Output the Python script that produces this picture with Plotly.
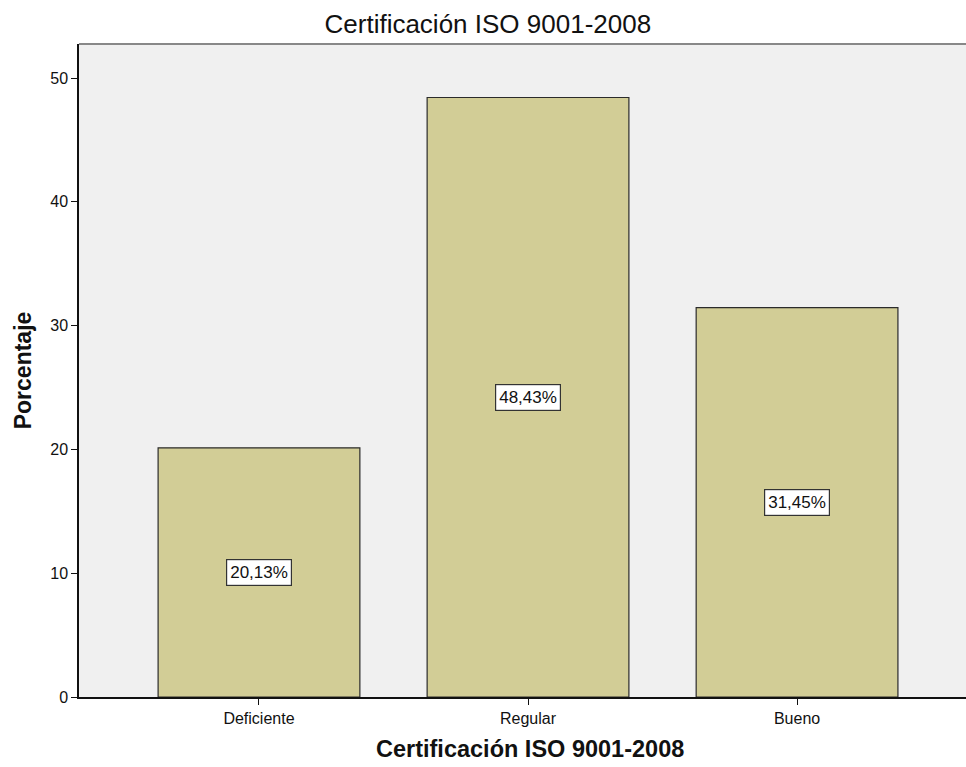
import plotly.graph_objects as go

categories = ["Deficiente", "Regular", "Bueno"]
values = [20.13, 48.43, 31.45]
labels = ["20,13%", "48,43%", "31,45%"]
yticks = [0, 10, 20, 30, 40, 50]

fig = go.Figure()
fig.add_trace(go.Bar(
    x=categories, y=values, width=0.75,
    marker=dict(color="#d2cd96", line=dict(color="#2b2b2b", width=1.2)),
    hoverinfo="skip",
))

for c, v, t in zip(categories, values, labels):
    fig.add_annotation(
        x=c, y=v / 2, text=t, showarrow=False,
        font=dict(family="Liberation Sans, Arial", size=17, color="#111"),
        bgcolor="white", bordercolor="#333", borderwidth=1.2, borderpad=3,
    )

# x-axis title as annotation (slightly right of plot centre, as in reference)
fig.add_annotation(
    xref="paper", yref="paper", x=0.508, y=0, yshift=-52,
    xanchor="center", yanchor="middle", showarrow=False,
    text="<b>Certificación ISO 9001-2008</b>", borderpad=0,
    font=dict(family="Liberation Sans, Arial", size=23.5, color="#111"),
)

fig.add_shape(type="line", xref="paper", yref="paper", x0=0, x1=1, y0=1, y1=1,
              line=dict(color="#888888", width=2))

fig.update_layout(
    width=966, height=767,
    margin=dict(l=79, r=0, t=44, b=70),
    paper_bgcolor="white", plot_bgcolor="#f0f0f0",
    showlegend=False,
    title=dict(text="Certificación ISO 9001-2008", x=0.505, xanchor="center",
               y=1 - 24 / 767, yanchor="middle",
               font=dict(family="Liberation Sans, Arial", size=26, color="#111")),
    font=dict(family="Liberation Sans, Arial", color="#111"),
    bargap=0.25,
)
fig.update_xaxes(
    range=[-0.669, 2.628], showline=True, linecolor="#111", linewidth=1.5,
    ticks="outside", ticklen=6, tickcolor="#111", tickfont=dict(size=16),
    showgrid=False, zeroline=False,
)
fig.update_yaxes(
    range=[0, 52.75], tickvals=yticks, showline=True, linecolor="#111", linewidth=1.5,
    ticks="outside", ticklen=6, tickcolor="#111", tickfont=dict(size=16),
    title=dict(text="<b>Porcentaje</b>", font=dict(size=23), standoff=12),
    showgrid=False, zeroline=False,
)

fig.write_html("out.html")
